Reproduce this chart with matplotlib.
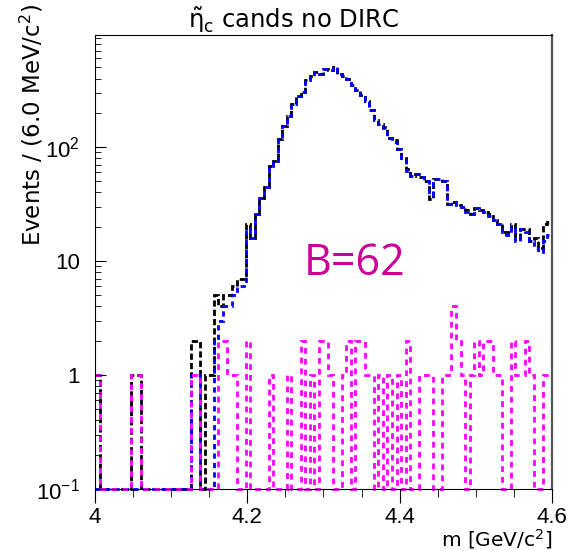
import numpy as np
import matplotlib
matplotlib.use('Agg')
import matplotlib.pyplot as plt
from matplotlib.ticker import LogLocator, NullFormatter, MultipleLocator

plt.rcParams['font.family'] = ['Liberation Sans', 'DejaVu Sans']
plt.rcParams['mathtext.fontset'] = 'custom'
plt.rcParams['mathtext.rm'] = 'Liberation Sans'
plt.rcParams['mathtext.it'] = 'Liberation Sans:italic'
plt.rcParams['lines.scale_dashes'] = False

# 100 bins of 6 MeV between 4.0 and 4.6 GeV
edges = np.linspace(4.0, 4.6, 101)

# all candidates (black)
total = [1, 0, 0, 0, 0, 0, 0, 0, 1, 1,
         0, 0, 0, 0, 0, 0, 0, 0, 0, 0,
         0, 2, 2, 0, 1, 1, 5, 4, 5, 5,
         6, 7, 7, 21, 16, 26, 36, 45, 68, 75,
         118, 153, 188, 238, 280, 305, 388, 420, 455, 435,
         485, 475, 510, 435, 420, 395, 350, 315, 285, 255,
         210, 172, 160, 150, 120, 115, 96, 80, 64, 56,
         58, 55, 50, 35, 52, 52, 50, 32, 33, 31,
         30, 28, 26, 29, 28, 27, 26, 23, 21, 18,
         18, 21, 16, 19, 19, 15, 16, 13, 21, 22]

# blue dashed
matched = [0, 0, 0, 0, 0, 0, 0, 0, 0, 0,
           0, 0, 0, 0, 0, 0, 0, 0, 0, 0,
           0, 1, 1, 0, 0, 0, 2, 3, 4, 4,
           5, 6, 6, 19, 16, 26, 36, 45, 68, 75,
           118, 153, 188, 238, 280, 305, 388, 420, 455, 435,
           485, 475, 510, 435, 420, 395, 350, 315, 285, 255,
           210, 172, 160, 148, 120, 112, 96, 80, 62, 56,
           58, 55, 50, 38, 52, 52, 50, 32, 33, 31,
           30, 27, 26, 29, 28, 27, 25, 23, 21, 18,
           17, 20, 15, 19, 18, 15, 13, 12, 15, 17]

# background (magenta dashed)
background = [1, 0, 0, 0, 0, 0, 0, 0, 1, 1,
              0, 0, 0, 0, 0, 0, 0, 0, 0, 0,
              0, 1, 1, 0, 0, 0, 0, 2, 2, 1,
              1, 0, 0, 2, 0, 0, 0, 0, 1, 0,
              0, 0, 1, 0, 0, 2, 0, 1, 0, 2,
              2, 1, 0, 0, 1, 2, 0, 2, 2, 1,
              1, 0, 1, 0, 1, 0, 1, 0, 2, 0,
              0, 1, 1, 1, 0, 0, 1, 1, 4, 2,
              1, 0, 1, 2, 1, 2, 2, 1, 1, 0,
              0, 2, 1, 1, 2, 1, 0, 0, 1, 1]

ymin, ymax = 0.1, 960

fig = plt.figure(figsize=(5.86, 5.5), dpi=100)
ax = fig.add_axes([0.162, 0.111, 0.780, 0.825])

styles = [(total, 'black', (0, (4.5, 2.2))),
          (matched, 'blue', (0, (3.8, 3.0))),
          (background, 'magenta', (0, (4.2, 3.6)))]
for vals, col, dash in styles:
    v = np.maximum(np.array(vals, dtype=float), ymin)
    ax.stairs(v, edges, baseline=None, color=col, lw=2.0,
              linestyle=dash, clip_on=False)

ax.set_yscale('log')
ax.set_xlim(4.0, 4.6)
ax.set_ylim(ymin, ymax)

ax.set_yticks([0.1, 1, 10, 100])
ax.set_yticklabels([r'$10^{-1}$', '1', '10', r'$10^{2}$'])
ax.yaxis.set_minor_locator(LogLocator(base=10, subs=np.arange(2, 10)))
ax.yaxis.set_minor_formatter(NullFormatter())
ax.tick_params(axis='y', which='both', direction='in', right=False,
               labelsize=16, pad=11)
ax.tick_params(axis='y', which='major', length=8)
ax.tick_params(axis='y', which='minor', length=4)

ax.set_xticks([4.0, 4.2, 4.4, 4.6])
ax.set_xticklabels(['4', '4.2', '4.4', '4.6'])
ax.xaxis.set_minor_locator(MultipleLocator(0.05))
ax.tick_params(axis='x', which='both', direction='out', top=False,
               labelsize=16, pad=3)
ax.tick_params(axis='x', which='major', length=10)
ax.tick_params(axis='x', which='minor', length=6)

ax.spines['right'].set_color('#555555')
ax.spines['right'].set_linewidth(1.6)

wide = ['DejaVu Sans']
fig.text(0.5, 1 - 20 / 550, r'$\tilde{\mathrm{\eta}}_{\mathrm{c}}$ cands no DIRC',
         ha='center', va='center', fontsize=17.5, family=wide,
         math_fontfamily='dejavusans')
fig.text(32 / 586, 1 - 4 / 550, 'Events / (6.0 MeV/c$^{2}$)', rotation=90,
         ha='center', va='top', fontsize=16.5, family=wide,
         math_fontfamily='dejavusans')
fig.text(552 / 586, 1 - 539 / 550, 'm [GeV/c$^{2}$]', ha='right', va='center',
         fontsize=14.5, family=wide, math_fontfamily='dejavusans')
fig.text(355 / 586, 1 - 264 / 550, 'B=62', color='#cc0099', fontsize=31,
         family=['Open Sans', 'DejaVu Sans'], ha='center', va='center')

fig.savefig('out.png', dpi=100)
